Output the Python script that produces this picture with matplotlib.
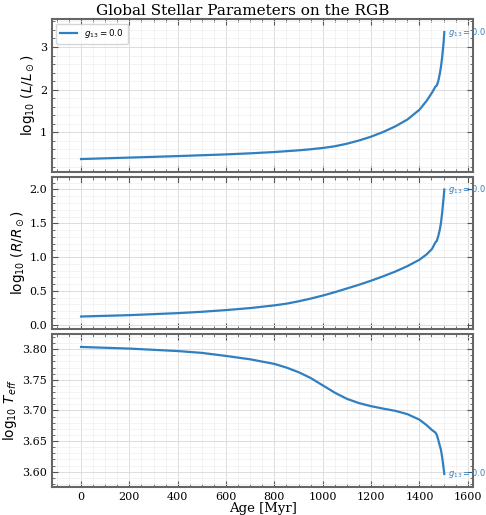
import matplotlib
matplotlib.use("Agg")
import matplotlib.pyplot as plt
import numpy as np
from matplotlib.ticker import MultipleLocator, FormatStrFormatter

# RGB track for g13 = 0.0
age = [0, 200, 400, 500, 600, 700, 800, 850, 900, 950, 1000, 1050, 1100, 1150, 1200,
       1250, 1300, 1350, 1400, 1430, 1452, 1466, 1472, 1478, 1484, 1489, 1494, 1498, 1501, 1503]
log_L = [0.376, 0.41, 0.445, 0.465, 0.485, 0.51, 0.54, 0.56, 0.58, 0.605, 0.635, 0.675,
         0.735, 0.81, 0.90, 1.01, 1.14, 1.30, 1.53, 1.74, 1.93, 2.07, 2.10, 2.20, 2.36,
         2.53, 2.75, 2.98, 3.17, 3.35]
log_R = [0.12, 0.14, 0.17, 0.19, 0.215, 0.245, 0.285, 0.31, 0.345, 0.385, 0.43, 0.48,
         0.535, 0.59, 0.65, 0.715, 0.785, 0.865, 0.96, 1.04, 1.12, 1.215, 1.24, 1.31, 1.40,
         1.50, 1.65, 1.80, 1.91, 2.0]
log_T = [3.8037, 3.801, 3.797, 3.794, 3.789, 3.7835, 3.776, 3.770, 3.7625, 3.753, 3.741,
         3.729, 3.719, 3.712, 3.707, 3.703, 3.6994, 3.694, 3.685, 3.676, 3.668, 3.664,
         3.660, 3.652, 3.643, 3.636, 3.624, 3.612, 3.603, 3.5963]
label = r"$g_{13} = 0.0$"

color = "#2f7fc1"
plt.rcParams["font.family"] = "DejaVu Serif"
plt.rcParams["mathtext.fontset"] = "dejavusans"

fig, axes = plt.subplots(3, 1, sharex=True, figsize=(4.86, 5.15), dpi=100)
fig.subplots_adjust(left=0.107, right=0.974, top=0.9625, bottom=0.055, hspace=0.033)

series = [log_L, log_R, log_T]
ylabels = [r"$\log_{10}\,(L/L_\odot)$", r"$\log_{10}\,(R/R_\odot)$", r"$\log_{10}\,T_{eff}$"]
majors = [1, 0.5, 0.05]
minors = [0.2, 0.1, 0.01]
yfmt = [None, "%.1f", "%.2f"]

for ax, y, yl, mj, mn, fmt in zip(axes, series, ylabels, majors, minors, yfmt):
    ax.plot(age, y, color=color, lw=1.6, label=label)
    ax.annotate(label, (age[-1], y[-1]), xytext=(3, 0), textcoords="offset points",
                color=color, fontsize=6, va="center", ha="left")
    ax.set_ylabel(yl, fontsize=9.8, family="DejaVu Sans", labelpad=2)
    ax.margins(x=0.08, y=0.1)
    ax.xaxis.set_major_locator(MultipleLocator(200))
    ax.xaxis.set_minor_locator(MultipleLocator(50))
    ax.yaxis.set_major_locator(MultipleLocator(mj))
    ax.yaxis.set_minor_locator(MultipleLocator(mn))
    if fmt:
        ax.yaxis.set_major_formatter(FormatStrFormatter(fmt))
    ax.grid(which="major", color="#dcdcdc", lw=0.7)
    ax.grid(which="minor", color="#efefef", lw=0.5)
    ax.tick_params(which="both", direction="in", top=True, right=True,
                   color="#555555", labelsize=8)
    ax.tick_params(which="major", length=4, width=0.8)
    ax.tick_params(which="minor", length=2, width=0.6)
    for s in ax.spines.values():
        s.set_color("#666666")
        s.set_linewidth(1.5)

axes[0].legend(loc="upper left", fontsize=6.3, edgecolor="#cccccc", fancybox=True)
axes[2].set_xlabel("Age [Myr]", fontsize=9.5, labelpad=0)
fig.suptitle("Global Stellar Parameters on the RGB", fontsize=11, y=0.992)

fig.savefig("out.png", dpi=100)
